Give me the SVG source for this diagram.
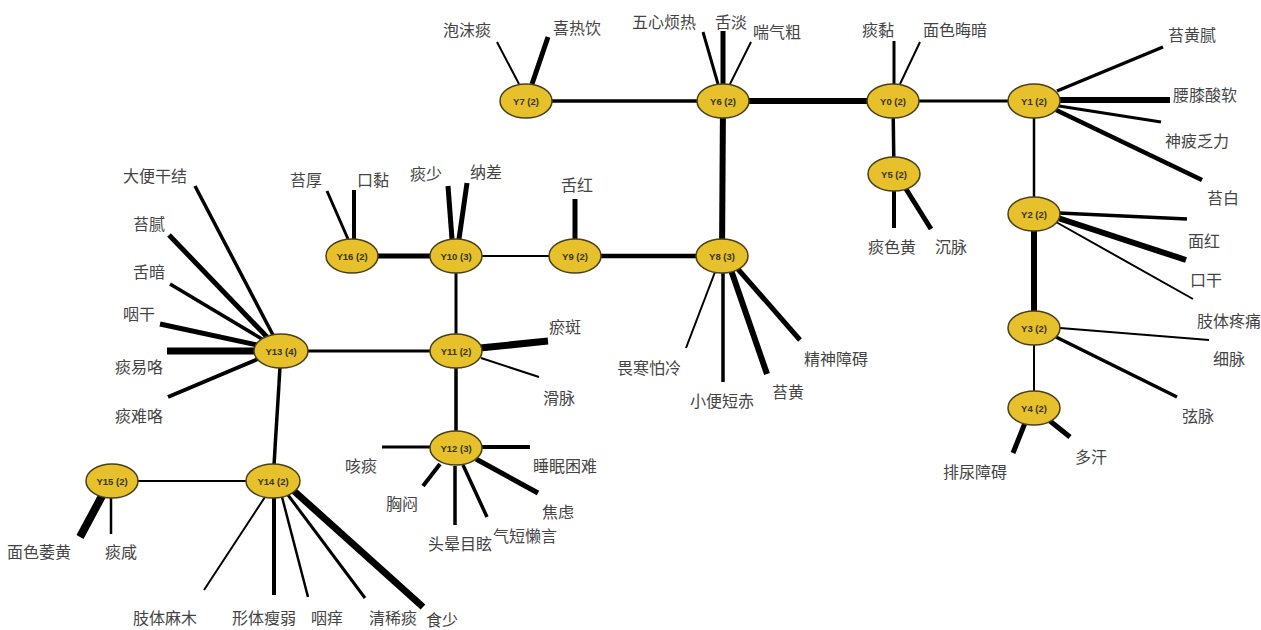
<svg xmlns="http://www.w3.org/2000/svg" width="1261" height="630" viewBox="0 0 1261 630">
<style>
.bg{fill:#ffffff}
.c line{stroke:#000;stroke-linecap:butt}
.w2{stroke-width:2}
.w25{stroke-width:2.5}
.w3{stroke-width:3}
.w35{stroke-width:3.5}
.w4{stroke-width:4}
.w45{stroke-width:4.5}
.w5{stroke-width:5}
.w6{stroke-width:6}
.w7{stroke-width:7}
.w8{stroke-width:8}
.n ellipse{fill:#E6C12C;stroke:#4a3f1a;stroke-width:1.5}
.n text{font-family:"Liberation Sans",Arial,sans-serif;font-size:9.5px;font-weight:bold;fill:#3a3420;text-anchor:middle;dominant-baseline:central}
.l text{font-family:"Noto Sans CJK SC","Liberation Sans",sans-serif;font-size:16px;fill:#444444;dominant-baseline:central}
</style>
<rect class="bg" x="0" y="0" width="1261" height="630"/>
<g id="connectors" class="c">
<line class="w35" x1="526" y1="101" x2="723" y2="101"/>
<line class="w6" x1="723" y1="101" x2="893" y2="101"/>
<line class="w3" x1="893" y1="101" x2="1034" y2="101"/>
<line class="w35" x1="893" y1="101" x2="894" y2="174"/>
<line class="w25" x1="1034" y1="101" x2="1034" y2="214"/>
<line class="w6" x1="1034" y1="214" x2="1034" y2="328"/>
<line class="w2" x1="1034" y1="328" x2="1034" y2="408"/>
<line class="w6" x1="723" y1="101" x2="722" y2="256"/>
<line class="w45" x1="575" y1="256" x2="722" y2="256"/>
<line class="w2" x1="456" y1="256" x2="575" y2="256"/>
<line class="w5" x1="352" y1="256" x2="456" y2="256"/>
<line class="w3" x1="456" y1="256" x2="456" y2="351"/>
<line class="w3" x1="281" y1="351" x2="456" y2="351"/>
<line class="w35" x1="456" y1="351" x2="456" y2="449"/>
<line class="w35" x1="281" y1="351" x2="273" y2="481"/>
<line class="w2" x1="112" y1="481" x2="273" y2="481"/>
<line class="w2" x1="519" y1="84" x2="497" y2="42"/>
<line class="w5" x1="532" y1="84" x2="548" y2="37"/>
<line class="w3" x1="718" y1="84" x2="703" y2="32"/>
<line class="w5" x1="723" y1="84" x2="723" y2="31"/>
<line class="w2" x1="730" y1="84" x2="751" y2="42"/>
<line class="w3" x1="894" y1="84" x2="894" y2="41"/>
<line class="w2" x1="900" y1="84" x2="920" y2="42"/>
<line class="w35" x1="1057" y1="91" x2="1163" y2="47"/>
<line class="w6" x1="1060" y1="100" x2="1170" y2="100"/>
<line class="w3" x1="1059" y1="106" x2="1161" y2="122"/>
<line class="w45" x1="1056" y1="110" x2="1202" y2="180"/>
<line class="w4" x1="894" y1="190" x2="894" y2="228"/>
<line class="w5" x1="906" y1="189" x2="931" y2="229"/>
<line class="w35" x1="1059" y1="213" x2="1187" y2="219"/>
<line class="w6" x1="1058" y1="218" x2="1186" y2="260"/>
<line class="w2" x1="1056" y1="222" x2="1193" y2="299"/>
<line class="w2" x1="1060" y1="328" x2="1209" y2="340"/>
<line class="w35" x1="1056" y1="337" x2="1177" y2="397"/>
<line class="w5" x1="1025" y1="423" x2="1013" y2="453"/>
<line class="w5" x1="1050" y1="421" x2="1070" y2="437"/>
<line class="w2" x1="715" y1="272" x2="686" y2="348"/>
<line class="w35" x1="723" y1="272" x2="723" y2="382"/>
<line class="w6" x1="731" y1="270" x2="767" y2="374"/>
<line class="w5" x1="737" y1="268" x2="800" y2="340"/>
<line class="w5" x1="575" y1="239" x2="575" y2="199"/>
<line class="w5" x1="452" y1="239" x2="448" y2="186"/>
<line class="w5" x1="459" y1="239" x2="467" y2="183"/>
<line class="w3" x1="348" y1="239" x2="327" y2="191"/>
<line class="w4" x1="354" y1="239" x2="354" y2="190"/>
<line class="w7" x1="480" y1="348" x2="548" y2="341"/>
<line class="w2" x1="481" y1="358" x2="539" y2="377"/>
<line class="w3" x1="382" y1="447" x2="431" y2="447"/>
<line class="w4" x1="481" y1="447" x2="530" y2="447"/>
<line class="w4" x1="440" y1="464" x2="423" y2="486"/>
<line class="w35" x1="455" y1="466" x2="455" y2="525"/>
<line class="w35" x1="463" y1="465" x2="487" y2="517"/>
<line class="w5" x1="476" y1="459" x2="538" y2="493"/>
<line class="w35" x1="273" y1="335" x2="195" y2="186"/>
<line class="w5" x1="267" y1="337" x2="169" y2="235"/>
<line class="w35" x1="262" y1="339" x2="170" y2="284"/>
<line class="w5" x1="257" y1="345" x2="160" y2="324"/>
<line class="w7" x1="255" y1="351" x2="167" y2="351"/>
<line class="w4" x1="258" y1="359" x2="168" y2="397"/>
<line class="w2" x1="265" y1="497" x2="204" y2="590"/>
<line class="w4" x1="274" y1="498" x2="274" y2="595"/>
<line class="w25" x1="282" y1="497" x2="308" y2="597"/>
<line class="w3" x1="288" y1="495" x2="365" y2="598"/>
<line class="w7" x1="294" y1="491" x2="423" y2="607"/>
<line class="w8" x1="102" y1="496" x2="80" y2="537"/>
<line class="w25" x1="111" y1="498" x2="111" y2="534"/>
</g>
<g id="Y7" class="n"><ellipse cx="526" cy="101" rx="26" ry="17"/><text x="526" y="101">Y7 (2)</text></g>
<g id="Y6" class="n"><ellipse cx="723" cy="101" rx="26" ry="17"/><text x="723" y="101">Y6 (2)</text></g>
<g id="Y0" class="n"><ellipse cx="893" cy="101" rx="26" ry="17"/><text x="893" y="101">Y0 (2)</text></g>
<g id="Y1" class="n"><ellipse cx="1034" cy="101" rx="26" ry="17"/><text x="1034" y="101">Y1 (2)</text></g>
<g id="Y5" class="n"><ellipse cx="894" cy="174" rx="26" ry="17"/><text x="894" y="174">Y5 (2)</text></g>
<g id="Y2" class="n"><ellipse cx="1034" cy="214" rx="26" ry="17"/><text x="1034" y="214">Y2 (2)</text></g>
<g id="Y3" class="n"><ellipse cx="1034" cy="328" rx="26" ry="17"/><text x="1034" y="328">Y3 (2)</text></g>
<g id="Y4" class="n"><ellipse cx="1034" cy="408" rx="26" ry="17"/><text x="1034" y="408">Y4 (2)</text></g>
<g id="Y8" class="n"><ellipse cx="722" cy="256" rx="26" ry="17"/><text x="722" y="256">Y8 (3)</text></g>
<g id="Y9" class="n"><ellipse cx="575" cy="256" rx="26" ry="17"/><text x="575" y="256">Y9 (2)</text></g>
<g id="Y10" class="n"><ellipse cx="456" cy="256" rx="26" ry="17"/><text x="456" y="256">Y10 (3)</text></g>
<g id="Y16" class="n"><ellipse cx="352" cy="256" rx="26" ry="17"/><text x="352" y="256">Y16 (2)</text></g>
<g id="Y11" class="n"><ellipse cx="456" cy="351" rx="26" ry="17"/><text x="456" y="351">Y11 (2)</text></g>
<g id="Y12" class="n"><ellipse cx="456" cy="448" rx="26" ry="17"/><text x="456" y="448">Y12 (3)</text></g>
<g id="Y13" class="n"><ellipse cx="281" cy="351" rx="27" ry="17"/><text x="281" y="351">Y13 (4)</text></g>
<g id="Y14" class="n"><ellipse cx="273" cy="481" rx="27" ry="17"/><text x="273" y="481">Y14 (2)</text></g>
<g id="Y15" class="n"><ellipse cx="112" cy="481" rx="26" ry="17"/><text x="112" y="481">Y15 (2)</text></g>
<g id="labels" class="l">
<text x="443" y="29">泡沫痰</text>
<text x="553" y="27">喜热饮</text>
<text x="632" y="21">五心烦热</text>
<text x="715" y="21">舌淡</text>
<text x="753" y="31">喘气粗</text>
<text x="862" y="29">痰黏</text>
<text x="923" y="29">面色晦暗</text>
<text x="1168" y="34">苔黄腻</text>
<text x="1173" y="94">腰膝酸软</text>
<text x="1165" y="140">神疲乏力</text>
<text x="1207" y="197">苔白</text>
<text x="868" y="246">痰色黄</text>
<text x="935" y="246">沉脉</text>
<text x="1188" y="240">面红</text>
<text x="1190" y="279">口干</text>
<text x="1197" y="320">肢体疼痛</text>
<text x="1213" y="358">细脉</text>
<text x="1182" y="415">弦脉</text>
<text x="943" y="471">排尿障碍</text>
<text x="1075" y="456">多汗</text>
<text x="617" y="367">畏寒怕冷</text>
<text x="690" y="400">小便短赤</text>
<text x="772" y="391">苔黄</text>
<text x="804" y="358">精神障碍</text>
<text x="561" y="184">舌红</text>
<text x="410" y="173">痰少</text>
<text x="470" y="171">纳差</text>
<text x="290" y="179">苔厚</text>
<text x="357" y="179">口黏</text>
<text x="549" y="326">瘀斑</text>
<text x="543" y="397">滑脉</text>
<text x="345" y="465">咳痰</text>
<text x="533" y="465">睡眠困难</text>
<text x="386" y="503">胸闷</text>
<text x="428" y="543">头晕目眩</text>
<text x="493" y="535">气短懒言</text>
<text x="542" y="511">焦虑</text>
<text x="123" y="175">大便干结</text>
<text x="133" y="223">苔腻</text>
<text x="133" y="271">舌暗</text>
<text x="123" y="313">咽干</text>
<text x="115" y="366">痰易咯</text>
<text x="115" y="415">痰难咯</text>
<text x="7" y="551">面色萎黄</text>
<text x="105" y="551">痰咸</text>
<text x="133" y="617">肢体麻木</text>
<text x="232" y="617">形体瘦弱</text>
<text x="311" y="617">咽痒</text>
<text x="369" y="617">清稀痰</text>
<text x="426" y="619">食少</text>
</g>
</svg>
